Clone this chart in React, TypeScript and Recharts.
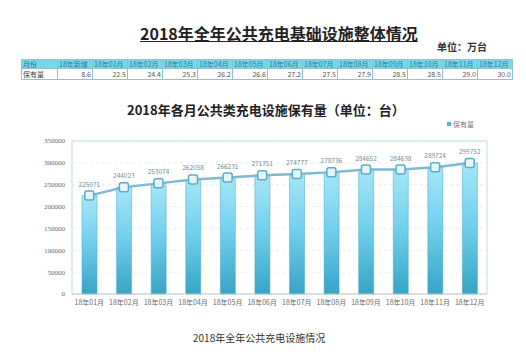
import React from 'react';
import {
  ComposedChart, Bar, Line, XAxis, YAxis, CartesianGrid, LabelList, ReferenceLine, Legend,
} from 'recharts';

const months = ['18年01月', '18年02月', '18年03月', '18年04月', '18年05月', '18年06月', '18年07月', '18年08月', '18年09月', '18年10月', '18年11月', '18年12月'];
const counts = [225071, 244023, 253074, 262058, 266231, 271751, 274777, 278736, 284652, 284638, 289724, 299752];
const yTicks = [0, 50000, 100000, 150000, 200000, 250000, 300000, 350000];

const tableHeaders = ['18年新增', '18年01月', '18年02月', '18年03月', '18年04月', '18年05月', '18年06月', '18年07月', '18年08月', '18年09月', '18年10月', '18年11月', '18年12月'];
const tableValues = [8.6, 22.5, 24.4, 25.3, 26.2, 26.6, 27.2, 27.5, 27.9, 28.5, 28.5, 29.0, 30.0];

const data = months.map((m, i) => ({ month: m, value: counts[i] }));

const CJK = '"Noto Sans CJK SC", "Noto Sans", sans-serif';

const SquareDot = (props: any) => {
  const { cx, cy } = props;
  if (cx == null || cy == null) return null;
  return (
    <rect x={cx - 4.5} y={cy - 4.5} width={9} height={9} rx={2} ry={2}
      fill="#e4f5fb" stroke="#5fa9c4" strokeWidth={1.5} />
  );
};

const LegendContent = () => (
  <div style={{ display: 'flex', alignItems: 'center', fontSize: 7, color: '#777', fontFamily: CJK }}>
    <span style={{ display: 'inline-block', width: 4, height: 4, background: '#4fb3d3', marginRight: 2 }} />
    保有量
  </div>
);

export default function App() {
  const cellBase: React.CSSProperties = {
    border: '1px solid #8fc3cf',
    padding: '0 1px',
    fontSize: 7,
    lineHeight: '8px',
    whiteSpace: 'nowrap',
    overflow: 'hidden',
  };
  return (
    <div style={{ position: 'absolute', left: 0, top: 0, width: 526, height: 356, overflow: 'hidden', background: '#fff', fontFamily: CJK }}>
      <ComposedChart
        width={526}
        height={356}
        data={data}
        margin={{ top: 131, right: 39, bottom: 42, left: 10 }}
        barCategoryGap={0}
      >
        <defs>
          <linearGradient id="barGrad" x1="0" y1="0" x2="0" y2="1">
            <stop offset="0%" stopColor="#a5e6f7" />
            <stop offset="45%" stopColor="#74d1ee" />
            <stop offset="100%" stopColor="#36a4c6" />
          </linearGradient>
        </defs>
        <CartesianGrid horizontal vertical={false} stroke="#e6eef0" strokeDasharray="3 3" />
        <CartesianGrid horizontal={false} vertical stroke="#bfdfe4"
          verticalCoordinatesGenerator={({ offset }: any) => [offset.left, offset.left + offset.width]} />
        <ReferenceLine y={350000} stroke="#bfdfe4" />
        <XAxis dataKey="month" tickLine={false} axisLine={{ stroke: '#b9c4c6' }} tickSize={4} tickMargin={2}
          interval={0} height={20}
          tick={{ fontSize: 7, fill: '#6a6a6a', fontFamily: CJK }} />
        <YAxis domain={[0, 350000]} ticks={yTicks} width={62} tickLine={false} axisLine={false}
          tickSize={5} tickMargin={2} interval={0}
          tick={{ fontSize: 7, fill: '#6a6a6a', fontFamily: '"Liberation Serif", serif' }} />
        <Legend verticalAlign="top" align="right" content={<LegendContent />}
          wrapperStyle={{ position: 'absolute', top: 119, left: 447, width: 40 }} />
        <Bar dataKey="value" barSize={15} fill="url(#barGrad)" stroke="#4aa9c6" strokeWidth={0.5} isAnimationActive={false} />
        <Line dataKey="value" stroke="#80bad0" strokeWidth={2.5} dot={<SquareDot />} activeDot={false}
          isAnimationActive={false}>
          <LabelList dataKey="value" position="top" offset={9} style={{ fontSize: 6.5, fill: '#6f8f9c', fontFamily: CJK }} />
        </Line>
      </ComposedChart>

      <div style={{ position: 'absolute', left: 140, top: 24, fontSize: 16, lineHeight: '18px', fontWeight: 'bold', color: '#222', textDecoration: 'underline', whiteSpace: 'nowrap' }}>
        2018年全年公共充电基础设施整体情况
      </div>
      <div style={{ position: 'absolute', left: 437, top: 41, fontSize: 10, lineHeight: '12px', fontWeight: 'bold', color: '#333', whiteSpace: 'nowrap' }}>
        单位：万台
      </div>
      <table style={{ position: 'absolute', left: 21, top: 59, borderCollapse: 'collapse', tableLayout: 'fixed', width: 36 + 35 * tableHeaders.length }}>
        <colgroup>
          <col style={{ width: 36 }} />
          {tableHeaders.map((h) => <col key={h} style={{ width: 35 }} />)}
        </colgroup>
        <tbody>
          <tr style={{ height: 9, background: '#74d8e6' }}>
            <td style={{ ...cellBase, color: '#2f6f95' }}>月份</td>
            {tableHeaders.map((h) => (
              <td key={h} style={{ ...cellBase, color: '#3a7aa0' }}>{h}</td>
            ))}
          </tr>
          <tr style={{ height: 11 }}>
            <td style={{ ...cellBase, color: '#444' }}>保有量</td>
            {tableValues.map((v, i) => (
              <td key={i} style={{ ...cellBase, color: '#555', textAlign: 'right' }}>{v.toFixed(1)}</td>
            ))}
          </tr>
        </tbody>
      </table>
      <div style={{ position: 'absolute', left: 127, top: 103, fontSize: 13, lineHeight: '14px', fontWeight: 'bold', color: '#222', whiteSpace: 'nowrap' }}>
        2018年各月公共类充电设施保有量（单位：台）
      </div>
      <div style={{ position: 'absolute', left: 193, top: 332, fontSize: 10, lineHeight: '12px', color: '#333', whiteSpace: 'nowrap' }}>
        2018年全年公共充电设施情况
      </div>
    </div>
  );
}
